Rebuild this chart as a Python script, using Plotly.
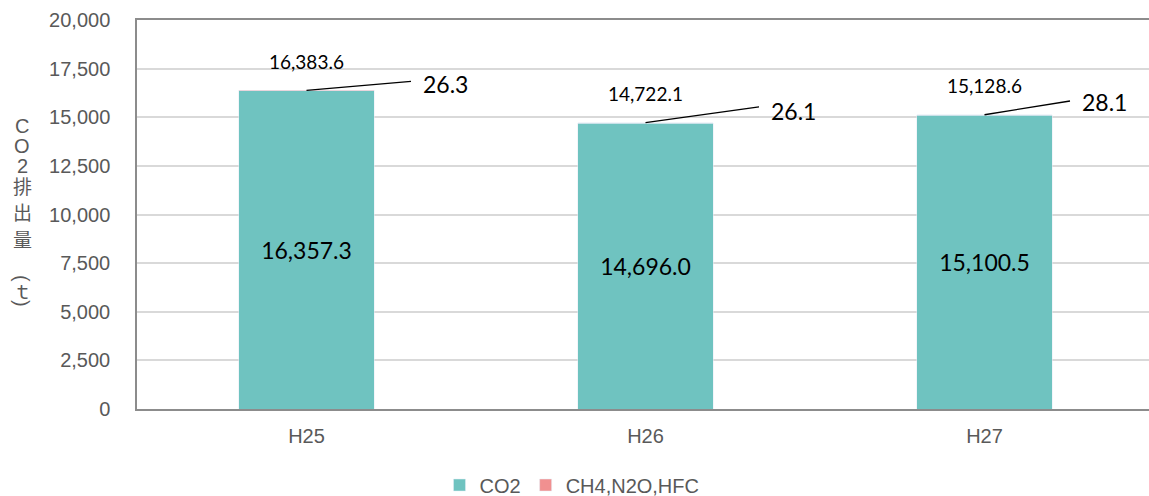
import plotly.graph_objects as go

categories = ["H25", "H26", "H27"]
co2 = [16357.3, 14696.0, 15100.5]
other = [26.3, 26.1, 28.1]
totals = [16383.6, 14722.1, 15128.6]
y_ticks = [0, 2500, 5000, 7500, 10000, 12500, 15000, 17500, 20000]
title_chars = ["C", "O", "2", "排", "出", "量", "(", "ｔ", ")"]

# layout: label offsets (pixels) for leader-line labels
leader_dx = [106, 115, 87]
leader_dy = [-9, -16, -14]
text_dy = [6, 12, 13]
# layout: vertical pixel centres of the stacked axis-title characters
title_char_y = [126, 146, 166, 185, 211, 238, 278, 290, 303]
title_char_angle = [0, 0, 0, 0, 0, 0, 90, 0, 90]

TEAL = "#6FC3C0"
PINK = "#F19090"
GRAY = "#595959"
LABEL_FONT = "Lato, 'Noto Sans', sans-serif"
AXIS_FONT = "'Liberation Sans', Arial, sans-serif"
CJK_FONT = "'Noto Sans CJK JP', sans-serif"

FIG_W, FIG_H = 1149, 496
M_L, M_T = 137, 20
PLOT_BOTTOM = 409
M_B = FIG_H - PLOT_BOTTOM
PLOT_H = PLOT_BOTTOM - M_T
PLOT_W = FIG_W - M_L
CAT_STEP = 339  # pixels between category centres
X_MAX = -0.5 + PLOT_W / CAT_STEP

fig = go.Figure()
fig.add_trace(go.Bar(
    x=categories, y=co2, name="CO2", marker_color=TEAL, width=0.4,
    text=[f"{v:,.1f}" for v in co2], textposition="inside",
    insidetextanchor="middle",
    textfont=dict(family=LABEL_FONT, size=23, color="black"),
))
fig.add_trace(go.Bar(
    x=categories, y=other, name="CH4,N2O,HFC", marker_color=PINK, width=0.4,
))

annotations = []
for i, c in enumerate(categories):
    annotations.append(dict(
        x=c, y=totals[i], xref="x", yref="y", text=f"{totals[i]:,.1f}",
        showarrow=False, yshift=29, font=dict(family=LABEL_FONT, size=19, color="black"),
    ))
    annotations.append(dict(
        x=c, y=totals[i], xref="x", yref="y", text="",
        showarrow=True, arrowhead=0, arrowwidth=1.3, arrowcolor="black",
        ax=leader_dx[i], ay=leader_dy[i],
    ))
    annotations.append(dict(
        x=c, y=totals[i], xref="x", yref="y", text=f"{other[i]:.1f}",
        showarrow=False, xanchor="left", xshift=leader_dx[i] + 8, yshift=text_dy[i],
        font=dict(family=LABEL_FONT, size=23, color="black"),
    ))

for ch, ypx, ang in zip(title_chars, title_char_y, title_char_angle):
    latin = ch.isascii()
    annotations.append(dict(
        x=(22 - M_L) / PLOT_W, y=1 - (ypx - M_T) / PLOT_H,
        xref="paper", yref="paper", text=ch, showarrow=False, textangle=ang,
        xanchor="center", yanchor="middle",
        font=dict(family=AXIS_FONT if latin else CJK_FONT, size=20 if latin else 19, color=GRAY),
    ))

fig.update_layout(
    width=FIG_W, height=FIG_H,
    margin=dict(l=M_L, r=0, t=M_T, b=M_B, autoexpand=False),
    barmode="stack",
    plot_bgcolor="white", paper_bgcolor="white",
    showlegend=True,
    legend=dict(orientation="h", x=(572 - M_L) / PLOT_W, xanchor="center",
                y=-(485 - PLOT_BOTTOM) / PLOT_H, yanchor="middle",
                font=dict(family=AXIS_FONT, size=20, color=GRAY), traceorder="normal",
                itemwidth=30, bgcolor="rgba(0,0,0,0)"),
    annotations=annotations,
    xaxis=dict(
        range=[-0.5, X_MAX], showline=True, linecolor="#8C8C8C", linewidth=1.5, mirror=True,
        tickfont=dict(family=AXIS_FONT, size=20, color=GRAY), ticks="",
        ticklabelstandoff=8, automargin=False,
    ),
    yaxis=dict(
        range=[0, 20000], tickvals=y_ticks, ticktext=[f"{v:,}" for v in y_ticks],
        showline=True, linecolor="#8C8C8C", linewidth=1.5,
        gridcolor="#D9D9D9", gridwidth=1.5, zeroline=False,
        tickfont=dict(family=AXIS_FONT, size=20, color=GRAY), ticks="",
        ticklabelstandoff=21, automargin=False,
    ),
)

fig.write_html(
    "out.html",
    config={"displayModeBar": False},
    post_script="document.body.style.margin='0';document.documentElement.style.overflow='hidden';",
)
